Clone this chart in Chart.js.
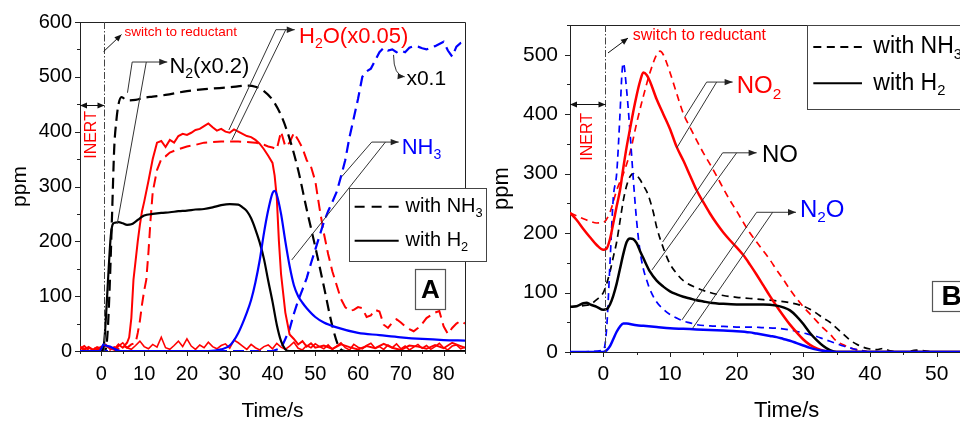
<!DOCTYPE html>
<html><head><meta charset="utf-8">
<script src="https://cdn.jsdelivr.net/npm/chart.js@4.4.1/dist/chart.umd.min.js"></script>
<style>
html,body{margin:0;padding:0;background:#fff;}
body{width:960px;height:422px;overflow:hidden;position:relative;}
#ca{position:absolute;left:0;top:0;}
#cb{position:absolute;left:480px;top:0;}
</style></head><body>
<canvas id="ca" width="492" height="422"></canvas>
<canvas id="cb" width="560" height="422"></canvas>
<script>
// ---------------- Panel A data (Time/s, ppm) ----------------
const tA_N2_NH3 = [-5,0,1,1.5,2,2.5,3,3.5,4,4.7,6,8,10,12,15,20,25,30,34,36,38,40,42,44,46,48,50,52,54,55.5,57,85];
const vA_N2_NH3 = [0,0,3,40,130,250,370,420,450,463,457,458,462,464,467,474,478,481,484,482,474,458,430,387,330,258,190,118,45,8,0,0];

const tA_N2_H2 = [-5,0,0.3,0.7,1.2,1.7,2.2,2.7,3.2,4,5,6,7,8,9,10,12,14,16,18,20,22,24,26,28,30,32,33,34,35,36,37,38,39,40,41,42,43,44,85];
const vA_N2_H2 = [0,0,2,20,80,150,210,232,234,235,233,230,231,236,242,247,250,252,253,255,256,258,259,262,266,268,267,262,255,242,222,198,168,128,90,48,18,3,0,0];

const tA_H2O_H2 = [-5,-4,-3,-2,-1,0,1,2,3,4,5,6,6.5,7,7.5,8,8.5,9,9.5,10,11,12,13,14,15,16,17,18,19,20,21,22,23,24,25,26,27,28,29,30,31,32,33,34,35,36,37,38,39,40,40.5,41,41.5,42,43,44,45,46,47,48,49,50,52,54,56,58,60,62,64,66,68,70,72,74,76,78,80,82,84,85];
const vA_H2O_H2 = [8,3,6,2,7,4,10,5,3,12,6,15,25,60,130,165,200,230,255,272,310,350,380,383,372,385,380,392,396,394,398,403,405,410,415,408,402,405,400,398,404,400,396,392,390,385,378,368,356,343,320,280,200,140,70,30,22,12,18,8,14,6,10,4,12,7,3,9,5,13,6,2,10,8,4,11,5,15,9,6];

const tA_H2O_NH3 = [-5,-4,-3,-2,-1,0,1,2,3,4,5,6,7,8,8.5,9,9.5,10,10.5,11,11.5,12,13,14,15,16,18,20,22,24,26,28,30,32,34,36,38,39,40,41,42,43,44,45,46,47,48,49,50,51,52,53,54,55,56,57,58,59,60,61,62,63,64,65,66,67,68,69,70,71,72,73,74,75,76,77,78,79,80,81,82,83,84,85];
const vA_H2O_NH3 = [4,9,2,6,3,8,5,2,7,4,10,6,12,15,33,55,85,110,130,180,240,290,330,350,355,362,368,373,376,380,381,382,382,382,381,380,376,373,371,368,400,373,380,398,385,370,348,336,310,260,215,177,145,120,95,80,73,75,80,78,62,65,75,72,48,42,52,58,52,45,40,36,42,50,60,65,70,73,45,31,42,50,55,50];

const tA_NH3_H2 = [-5,-0.5,0,0.5,1,2,3,4,5,25,28,30,32,34,35,36,37,38,39,40,40.5,41,42,43,44,45,46,47,48,50,52,55,60,65,70,75,80,85];
const vA_NH3_H2 = [0,0,5,12,10,8,4,1,0,0,3,10,33,70,93,125,165,215,257,288,292,285,250,200,155,120,100,88,78,62,52,43,33,29,25,22,20,19];

const tA_NH3_NH3 = [-5,40,42,43,44,45,46,47,48,49,50,51,52,53,54,55,56,57,58,59,60,61,62,63,64,65,66,67,68,69,70,71,72,73,74,75,76,77,78,79,80,81,82,83,84,85];
const vA_NH3_NH3 = [0,0,5,22,40,68,92,112,133,160,185,210,235,255,272,290,318,348,390,425,460,500,510,515,530,545,553,548,550,545,548,545,553,556,555,552,550,553,556,560,564,548,537,555,562,565];

const tA_noise = [-5,-4,-3,-2,-1,0,1,2,3,4,5,6,7,8,9,10,11,12,13,14,15,16,17,18,19,20,21,22,23,24,25,26,27,28,29,30,31,32,33,34,35,36,37,38,39,40,41,42,43,44,45,46,47,48,49,50,51,52,53,54,55,56,57,58,59,60,61,62,63,64,65,66,67,68,69,70,71,72,73,74,75,76,77,78,79,80,81,82,83,84,85];
const vA_noise = [5,2,8,3,1,6,12,4,2,9,15,6,3,10,18,8,4,12,7,25,6,3,10,18,8,22,9,3,11,6,16,8,4,10,13,5,20,15,9,3,12,6,2,8,11,4,14,7,3,9,16,5,2,10,6,13,8,4,11,3,9,15,6,2,12,7,4,10,14,5,8,3,11,6,13,4,9,2,7,12,5,10,3,8,14,6,2,9,11,4,7];

// ---------------- Panel B data (Time/s, ppm) ----------------
const tB_NO2_H2 = [-5,-4,-3,-2,-1,0,0.5,1,1.5,2,2.5,3,3.5,4,4.5,5,5.5,6,6.5,7,8,9,10,11,12,13,14,15,16,17,18,19,20,21,22,23,24,25,26,27,28,29,30,31,32,33,34,40,60];
const vB_NO2_H2 = [234,222,207,193,180,172,174,190,217,245,272,310,345,375,405,432,455,470,466,455,425,400,375,345,322,297,272,252,233,216,201,188,176,163,147,130,112,94,77,61,46,33,21,12,6,2,0,0,0];

const tB_NO2_NH3 = [-5,-4,-3,-2,-1,0,1,2,3,4,5,6,7,8,8.5,9,10,11,12,13,14,15,16,17,18,19,20,21,22,23,24,25,26,27,28,29,30,31,32,33,34,35,36,37,38,39,40,60];
const vB_NO2_NH3 = [234,229,224,220,217,218,235,272,300,335,385,430,470,500,506,500,470,435,401,378,356,335,316,296,275,255,237,218,200,185,170,155,138,122,105,90,76,64,52,40,30,18,12,7,4,2,0,0];

const tB_NO_H2 = [-5,-4,-3,-2.5,-2,-1,0,0.5,1,1.5,2,2.5,3,3.5,4,4.5,5,5.5,6,7,8,9,10,11,12,13,14,15,16,18,20,22,24,26,27,28,29,30,31,32,33,34,35,40,60];
const vB_NO_H2 = [76,77,82,83,80,76,71,72,80,95,115,140,165,185,191,190,183,170,158,135,120,110,102,97,93,90,87,85,83,81,80,80,80,78,75,70,60,47,32,20,10,3,0,0,0];

const tB_NO_NH3 = [-5,-4,-3,-2,-1,0,0.5,1,1.5,2,2.5,3,3.5,4,4.5,5,5.5,6,6.5,7,7.5,8,9,10,11,12,14,16,18,20,22,24,26,28,30,31,32,33,34,35,36,37,38,39,40,41,42,43,45,47,50,60];
const vB_NO_NH3 = [76,77,78,80,88,100,115,135,160,185,220,255,280,295,300,297,290,280,270,255,235,210,175,148,132,120,108,100,95,92,90,88,86,83,77,72,65,57,50,40,30,20,13,8,5,4,6,2,0,3,0,0];

const tB_N2O_H2 = [-5,0,0.5,1,1.5,2,2.5,3,3.5,4,5,6,8,10,12,14,16,18,20,22,23,24,25,26,27,28,29,30,31,32,33,34,35,40,60];
const vB_N2O_H2 = [0,0,3,10,22,34,43,48,48,47,45,44,42,40,39,38,37,36,35,33,31,29,27,25,22,19,15,11,7,4,2,1,0,0,0];

const tB_N2O_NH3 = [-5,0,0.5,1,1.5,2,2.5,2.8,3,3.5,4,4.5,5,5.5,6,6.5,7,8,9,10,11,12,13,14,16,18,20,22,24,26,28,30,31,32,33,34,35,36,37,38,39,40,60];
const vB_N2O_NH3 = [0,3,40,150,260,300,400,470,486,440,370,290,220,170,140,121,105,84,72,63,57,52,49,46,44,43,42,42,41,40,37,32,29,26,22,18,14,10,7,4,2,0,0];

// tick label text
const xTitle = 'Time/s';
const yTitle = 'ppm';
const switchText = 'switch to reductant';
const inertText = 'INERT';

// ---------------- helpers ----------------
const FONT = '"Liberation Sans", Arial, Helvetica, sans-serif';
Chart.defaults.font.family = FONT;
Chart.defaults.color = '#000';
const RED = '#ff0000', BLUE = '#0000ff', BLACK = '#000000';

function pts(t, v){ return t.map((x, i) => ({x: x, y: v[i]})); }
function ds(t, v, color, dash, width, smooth){
  return {data: pts(t, v), borderColor: color, borderWidth: width, borderDash: dash || [],
    pointRadius: 0, fill: false, tension: 0, cubicInterpolationMode: smooth ? 'monotone' : 'default'};
}

function arrowHead(ctx, x1, y1, x2, y2, len, w){
  const a = Math.atan2(y2 - y1, x2 - x1);
  ctx.beginPath();
  ctx.moveTo(x2, y2);
  ctx.lineTo(x2 - len*Math.cos(a) + w*Math.sin(a), y2 - len*Math.sin(a) - w*Math.cos(a));
  ctx.lineTo(x2 - len*Math.cos(a) - w*Math.sin(a), y2 - len*Math.sin(a) + w*Math.cos(a));
  ctx.closePath(); ctx.fill();
}
function richText(ctx, parts, x, y, size, color, weight){
  let cx = x;
  ctx.fillStyle = color; ctx.textBaseline = 'middle'; ctx.textAlign = 'left';
  parts.forEach(p => {
    const sub = p[1];
    const fs = sub ? size*0.64 : size;
    ctx.font = (weight || 'normal') + ' ' + fs + 'px ' + FONT;
    ctx.fillText(p[0], cx, sub ? y + size*0.33 : y);
    cx += ctx.measureText(p[0]).width;
  });
}

function decoPlugin(spec){
  return {
    id: 'deco',
    afterDraw(chart){
      const ctx = chart.ctx, xs = chart.scales.x, ys = chart.scales.y, ca = chart.chartArea;
      const X = t => xs.getPixelForValue(t), Y = v => ys.getPixelForValue(v);
      ctx.save();
      // ticks (major + minor)
      ctx.strokeStyle = '#222'; ctx.lineWidth = 1; ctx.setLineDash([]);
      ctx.beginPath();
      xs.ticks.forEach(tk => {
        const px = Math.round(X(tk.value)) + 0.5, L = (tk.value % 10 === 0) ? 5 : 3;
        ctx.moveTo(px, ca.bottom); ctx.lineTo(px, ca.bottom + L);
      });
      ys.ticks.forEach(tk => {
        const py = Math.round(Y(tk.value)) + 0.5, L = (tk.value % 100 === 0) ? 5 : 3;
        ctx.moveTo(ca.left - L, py); ctx.lineTo(ca.left, py);
      });
      ctx.stroke();
      // frame top & right
      ctx.beginPath();
      ctx.moveTo(ca.left, Math.round(ca.top) + 0.5);
      ctx.lineTo(Math.round(ca.right) + 0.5, Math.round(ca.top) + 0.5);
      ctx.lineTo(Math.round(ca.right) + 0.5, ca.bottom);
      ctx.stroke();
      // dash-dot switch marker
      ctx.strokeStyle = '#444'; ctx.lineWidth = 1; ctx.setLineDash([7, 2, 1.5, 2]);
      const mx = Math.round(X(spec.marker)) + 0.5;
      ctx.beginPath(); ctx.moveTo(mx, ca.top); ctx.lineTo(mx, ca.bottom); ctx.stroke();
      ctx.setLineDash([]);
      // switch arrow + text
      ctx.strokeStyle = '#111'; ctx.fillStyle = '#111';
      const s = spec.switchArrow;
      ctx.beginPath(); ctx.moveTo(X(s[0][0]), Y(s[0][1])); ctx.lineTo(X(s[1][0]), Y(s[1][1])); ctx.stroke();
      arrowHead(ctx, X(s[0][0]), Y(s[0][1]), X(s[1][0]), Y(s[1][1]), 7, 3);
      richText(ctx, [[switchText]], X(spec.switchText.t), Y(spec.switchText.v), spec.switchText.size, RED);
      // INERT
      ctx.save();
      ctx.translate(X(spec.inert.t), Y(spec.inert.v)); ctx.rotate(-Math.PI/2);
      ctx.fillStyle = RED; ctx.font = spec.inert.size + 'px ' + FONT; ctx.textAlign = 'center'; ctx.textBaseline = 'middle';
      ctx.fillText(inertText, 0, 0);
      ctx.restore();
      ctx.strokeStyle = '#111'; ctx.fillStyle = '#111';
      const iy = Math.round(Y(spec.inertArrowV)) + 0.5, ix1 = X(xs.min), ix2 = mx;
      ctx.beginPath(); ctx.moveTo(ix1, iy); ctx.lineTo(ix2, iy); ctx.stroke();
      arrowHead(ctx, ix2, iy, ix1, iy, 7, 3); arrowHead(ctx, ix1, iy, ix2, iy, 7, 3);
      // leader lines
      ctx.strokeStyle = '#333'; ctx.fillStyle = '#222'; ctx.lineWidth = 1;
      spec.leaders.forEach(l => {
        ctx.beginPath();
        l.pts.forEach((p, i) => { const px = X(p[0]), py = Y(p[1]); if (i) ctx.lineTo(px, py); else ctx.moveTo(px, py); });
        ctx.stroke();
        if (l.arrow) { const n = l.pts.length; arrowHead(ctx, X(l.pts[n-2][0]), Y(l.pts[n-2][1]), X(l.pts[n-1][0]), Y(l.pts[n-1][1]), 8, 3.2); }
      });
      if (spec.curve) {
        const c = spec.curve;
        ctx.beginPath(); ctx.moveTo(X(c[0][0]), Y(c[0][1]));
        ctx.quadraticCurveTo(X(c[1][0]), Y(c[1][1]), X(c[2][0]), Y(c[2][1])); ctx.stroke();
        arrowHead(ctx, X(c[1][0]), Y(c[1][1]), X(c[2][0]), Y(c[2][1]), 7, 3);
      }
      // series labels
      spec.labels.forEach(lb => richText(ctx, lb.parts, X(lb.t), Y(lb.v), lb.size, lb.color));
      // legend box
      const lg = spec.legend;
      const bx1 = Math.round(X(lg.box[0])) + 0.5, bx2 = Math.round(X(lg.box[1])) + 0.5;
      const by1 = Math.round(Y(lg.box[2])) + 0.5, by2 = Math.round(Y(lg.box[3])) + 0.5;
      ctx.fillStyle = '#fff'; ctx.fillRect(bx1, by1, bx2 - bx1, by2 - by1);
      ctx.strokeStyle = '#444'; ctx.lineWidth = 1; ctx.strokeRect(bx1, by1, bx2 - bx1, by2 - by1);
      lg.rows.forEach(r => {
        ctx.strokeStyle = '#000'; ctx.lineWidth = lg.lw; ctx.setLineDash(r.dash);
        ctx.beginPath(); ctx.moveTo(X(lg.sample[0]), Y(r.v)); ctx.lineTo(X(lg.sample[1]), Y(r.v)); ctx.stroke();
        ctx.setLineDash([]);
        richText(ctx, r.parts, X(lg.textT), Y(r.v), lg.size, '#000');
      });
      // panel letter
      const pl = spec.panel;
      const px1 = Math.round(X(pl.box[0])) + 0.5, px2 = Math.round(X(pl.box[1])) + 0.5;
      const py1 = Math.round(Y(pl.box[2])) + 0.5, py2 = Math.round(Y(pl.box[3])) + 0.5;
      ctx.fillStyle = '#fff'; ctx.fillRect(px1, py1, px2 - px1, py2 - py1);
      ctx.strokeStyle = '#555'; ctx.lineWidth = 1.2; ctx.strokeRect(px1, py1, px2 - px1, py2 - py1);
      ctx.fillStyle = '#000'; ctx.font = 'bold ' + pl.size + 'px ' + FONT; ctx.textAlign = 'center'; ctx.textBaseline = 'middle';
      ctx.fillText(pl.text, (px1 + px2)/2, (py1 + py2)/2 + 1);
      ctx.restore();
    }
  };
}

function makeChart(id, o){
  return new Chart(document.getElementById(id), {
    type: 'line',
    data: {datasets: o.datasets},
    options: {
      responsive: false, animation: false, devicePixelRatio: 1,
      layout: {padding: o.padding},
      plugins: {legend: {display: false}, tooltip: {enabled: false}},
      scales: {
        x: {type: 'linear', min: o.xmin, max: o.xmax,
          ticks: {stepSize: 5, autoSkip: false, maxRotation: 0, padding: o.xpad, font: {size: o.tick},
            callback: v => (v % 10 === 0 ? String(v) : '')},
          grid: {drawOnChartArea: false, drawTicks: true, tickLength: 5, tickColor: 'rgba(0,0,0,0)'},
          border: {display: true, color: '#222', width: 1},
          title: {display: true, text: xTitle, font: {size: o.title, lineHeight: 1}, padding: {top: 0, bottom: o.xtp}},
          afterFit: s => { s.height = o.xh; }},
        y: {type: 'linear', min: 0, max: o.ymax,
          ticks: {stepSize: 50, autoSkip: false, padding: o.ypad, font: {size: o.tick},
            callback: v => (v % 100 === 0 ? String(v) : '')},
          grid: {drawOnChartArea: false, drawTicks: true, tickLength: 5, tickColor: 'rgba(0,0,0,0)'},
          border: {display: true, color: '#222', width: 1},
          title: {display: true, text: yTitle, font: {size: o.title, lineHeight: 1}, padding: {top: o.ytp, bottom: 0}},
          afterFit: s => { s.width = o.yw; }}
      }
    },
    plugins: [decoPlugin(o.deco)]
  });
}

// ---------------- Panel A ----------------
const dA = [11, 6];
makeChart('ca', {
  xmin: -5, xmax: 85, ymax: 600, tick: 20, title: 21, xpad: 6, ypad: 3, xtp: 0.5, ytp: 9.5, xh: 71, yw: 80,
  padding: {left: 0, top: 22, right: 27, bottom: 0},
  datasets: [
    ds(tA_NH3_H2, vA_NH3_H2, BLUE, null, 2.2, true),
    ds(tA_N2_H2, vA_N2_H2, BLACK, null, 2.2, true),
    ds(tA_H2O_H2, vA_H2O_H2, RED, null, 2, false),
    ds(tA_noise, vA_noise, RED, null, 1.6, false),
    ds(tA_NH3_NH3, vA_NH3_NH3, BLUE, dA, 2.2, false),
    ds(tA_N2_NH3, vA_N2_NH3, BLACK, dA, 2.2, true),
    ds(tA_H2O_NH3, vA_H2O_NH3, RED, dA, 2, false)
  ],
  deco: {
    marker: 0.5,
    switchArrow: [[0.5, 546], [4.7, 577]],
    switchText: {t: 5.4, v: 582, size: 13.5},
    inert: {t: -2.2, v: 394, size: 16},
    inertArrowV: 449,
    leaders: [
      {pts: [[6.1, 471], [7.2, 527], [15.4, 527]], arrow: true},
      {pts: [[3.7, 232], [10.5, 527]]},
      {pts: [[29.8, 403], [40.8, 586], [45.2, 586]], arrow: true},
      {pts: [[30.5, 385], [43.1, 586]]},
      {pts: [[56.2, 318], [63.2, 381], [69.5, 381]], arrow: true},
      {pts: [[44.5, 166], [66.4, 381]]}
    ],
    curve: [[68.3, 540], [68.3, 502], [70.9, 500]],
    labels: [
      {parts: [['N'], ['2', 1], ['(x0.2)']], t: 15.9, v: 518, size: 22, color: BLACK},
      {parts: [['H'], ['2', 1], ['O(x0.05)']], t: 46.2, v: 573, size: 22, color: RED},
      {parts: [['NH'], ['3', 1]], t: 70.2, v: 370, size: 22, color: BLUE},
      {parts: [['x0.1']], t: 71.3, v: 495, size: 21, color: BLACK}
    ],
    legend: {box: [57.8, 90, 297, 164], sample: [59.2, 69.5], textT: 71.1, size: 20, lw: 2,
      rows: [{v: 263, dash: [10, 7], parts: [['with NH'], ['3', 1]]},
             {v: 201, dash: [], parts: [['with H'], ['2', 1]]}]},
    panel: {box: [73.4, 80.4, 150, 77], text: 'A', size: 26}
  }
});

// ---------------- Panel B ----------------
const dB = [7, 5];
makeChart('cb', {
  xmin: -5, xmax: 60, ymax: 550, tick: 21, title: 22, xpad: 5, ypad: 7, xtp: 0, ytp: 11, xh: 70, yw: 90,
  padding: {left: 0, top: 25, right: 36.7, bottom: 0},
  datasets: [
    ds(tB_N2O_H2, vB_N2O_H2, BLUE, null, 2.5, true),
    ds(tB_NO_H2, vB_NO_H2, BLACK, null, 2.5, true),
    ds(tB_NO2_H2, vB_NO2_H2, RED, null, 2.5, true),
    ds(tB_N2O_NH3, vB_N2O_NH3, BLUE, dB, 1.7, true),
    ds(tB_NO_NH3, vB_NO_NH3, BLACK, dB, 1.7, true),
    ds(tB_NO2_NH3, vB_NO2_NH3, RED, dB, 1.7, true)
  ],
  deco: {
    marker: 0.25,
    switchArrow: [[0.7, 503], [3.7, 528]],
    switchText: {t: 4.4, v: 533, size: 16},
    inert: {t: -2.3, v: 362, size: 16},
    inertArrowV: 417,
    leaders: [
      {pts: [[12.2, 395], [15.5, 454], [19.4, 454]], arrow: true},
      {pts: [[11, 343], [17, 454]]},
      {pts: [[8.9, 185], [17.9, 335], [23, 335]], arrow: true},
      {pts: [[7.3, 138], [20, 335]]},
      {pts: [[11.8, 54], [23, 235], [28.9, 235]], arrow: true},
      {pts: [[13.4, 40], [25.4, 235]]}
    ],
    curve: null,
    labels: [
      {parts: [['NO'], ['2', 1]], t: 20, v: 446, size: 24, color: RED},
      {parts: [['NO']], t: 23.8, v: 331, size: 24, color: BLACK},
      {parts: [['N'], ['2', 1], ['O']], t: 29.5, v: 239, size: 24, color: BLUE}
    ],
    legend: {box: [30.5, 59.5, 550, 409], sample: [31.5, 38.8], textT: 40.5, size: 23, lw: 2,
      rows: [{v: 513, dash: [8, 5.5], parts: [['with NH'], ['3', 1]]},
             {v: 452, dash: [], parts: [['with H'], ['2', 1]]}]},
    panel: {box: [49.3, 55, 119, 69], text: 'B', size: 28}
  }
});
</script>
</body></html>
